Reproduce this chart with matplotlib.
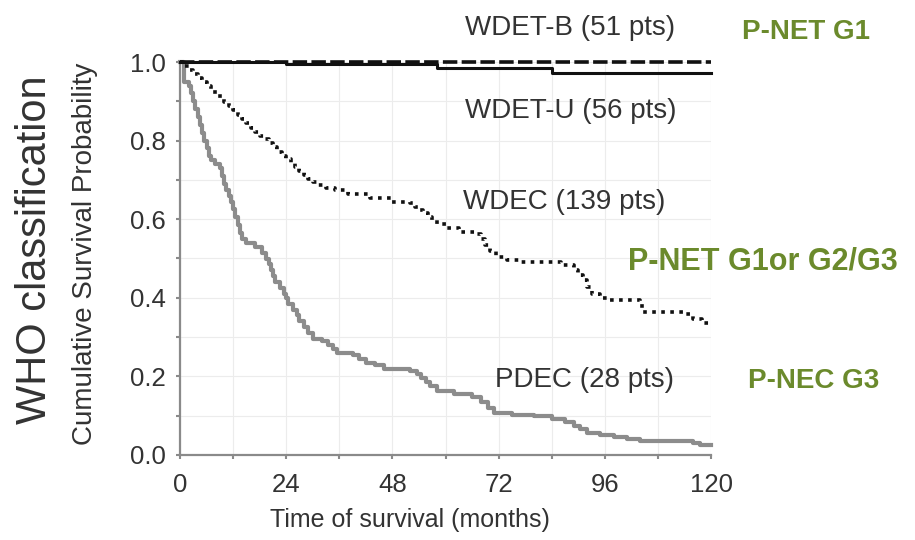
import matplotlib
matplotlib.use("Agg")
import matplotlib.pyplot as plt
from matplotlib.ticker import MultipleLocator

plt.rcParams['font.family'] = ['Liberation Sans', 'DejaVu Sans']

# ---- data (months, cumulative survival) ----
pdec_t = [0, 1, 2, 2.5, 3, 3.5, 4, 4.5, 5, 5.5, 6, 6.5, 7, 8, 9, 9.5, 10, 10.5, 11, 11.5,
          12, 12.5, 13, 13.5, 14, 15, 17, 18.5, 19.5, 20, 20.5, 21, 21.5, 22.5, 23.5, 24,
          24.5, 25.5, 26.5, 27, 28, 29, 30, 32, 33.5, 34.5, 35.5, 39, 40.5, 42, 44, 46,
          52, 53.5, 54.5, 55.5, 56.5, 58, 62, 66, 68, 69.5, 71, 75, 80, 84, 87, 89, 90.5,
          92, 95, 98, 101, 104, 116, 117.5, 120]
pdec_s = [1.0, 0.95, 0.94, 0.92, 0.90, 0.88, 0.86, 0.84, 0.82, 0.80, 0.78, 0.76, 0.75,
          0.74, 0.73, 0.71, 0.69, 0.675, 0.66, 0.645, 0.625, 0.605, 0.585, 0.565, 0.55,
          0.54, 0.53, 0.515, 0.50, 0.485, 0.47, 0.455, 0.44, 0.425, 0.41, 0.40, 0.385,
          0.37, 0.355, 0.34, 0.325, 0.31, 0.295, 0.29, 0.28, 0.27, 0.26, 0.255, 0.245,
          0.235, 0.228, 0.22, 0.215, 0.205, 0.195, 0.185, 0.175, 0.162, 0.155, 0.148,
          0.135, 0.12, 0.108, 0.103, 0.098, 0.092, 0.085, 0.075, 0.065, 0.057, 0.05,
          0.045, 0.04, 0.035, 0.03, 0.025, 0.025]

wdec_t = [0, 1, 2, 3, 4, 5, 6, 7, 8, 9, 10, 11, 12, 13, 14, 15, 16, 17, 18, 19, 20, 21,
          22, 23, 24, 25, 26, 27, 28, 29, 30, 31, 33, 35, 38, 43, 48, 52, 53, 54, 55, 56,
          57, 58, 60, 63, 67, 68, 69, 70, 71.5, 74, 77, 86, 89, 90, 91, 92, 93, 95, 97,
          104, 104.5, 114, 116, 118, 120]
wdec_s = [1.0, 0.99, 0.98, 0.97, 0.96, 0.948, 0.938, 0.928, 0.918, 0.908, 0.898, 0.888,
          0.878, 0.866, 0.855, 0.845, 0.833, 0.822, 0.812, 0.803, 0.794, 0.783, 0.772,
          0.762, 0.752, 0.742, 0.732, 0.722, 0.712, 0.703, 0.695, 0.688, 0.68, 0.674,
          0.665, 0.654, 0.645, 0.64, 0.632, 0.624, 0.615, 0.606, 0.597, 0.588, 0.577,
          0.567, 0.562, 0.55, 0.535, 0.52, 0.505, 0.495, 0.49, 0.483, 0.47, 0.458, 0.445,
          0.428, 0.41, 0.40, 0.394, 0.386, 0.365, 0.36, 0.345, 0.335, 0.335]

wdetu_t = [0, 24, 58, 84, 120]
wdetu_s = [1.0, 0.995, 0.985, 0.972, 0.972]

wdetb_t = [0, 120]
wdetb_s = [1.0, 1.0]

series_labels = ["WDET-B (51 pts)", "WDET-U (56 pts)", "WDEC (139 pts)", "PDEC (28 pts)"]
who_labels = ["P-NET G1", "P-NET G1or G2/G3", "P-NEC G3"]
x_ticks = [0, 24, 48, 72, 96, 120]
y_ticks = [0.0, 0.2, 0.4, 0.6, 0.8, 1.0]

W, H = 915, 540
fig = plt.figure(figsize=(W / 100, H / 100), dpi=100)
ax = fig.add_axes([180 / W, 1 - 455 / H, (711 - 180) / W, (455 - 62) / H])

txt = '#333333'
spine_c = '#8a8a8a'

ax.step(pdec_t, pdec_s, where='post', color='#8c8c8c', lw=3.0, clip_on=False, zorder=3)
ax.step(wdec_t, wdec_s, where='post', color='#111111', lw=2.6, clip_on=False, zorder=4,
        linestyle=(0, (1.0, 1.5)))
ax.step(wdetu_t, wdetu_s, where='post', color='#111111', lw=2.2, clip_on=False, zorder=4)
ax.step(wdetb_t, wdetb_s, where='post', color='#111111', lw=2.6, clip_on=False, zorder=5,
        linestyle=(0, (4, 1.2)))

ax.set_xlim(0, 120)
ax.set_ylim(0, 1)
ax.set_xticks(x_ticks)
ax.set_xticklabels([str(v) for v in x_ticks])
ax.set_yticks(y_ticks)
ax.set_yticklabels([f"{v:.1f}" for v in y_ticks])
ax.xaxis.set_minor_locator(MultipleLocator(12))
ax.yaxis.set_minor_locator(MultipleLocator(0.1))

ax.grid(True, which='both', color='#ececec', lw=0.8)
ax.set_axisbelow(True)

for s in ['top', 'right']:
    ax.spines[s].set_visible(False)
for s in ['left', 'bottom']:
    ax.spines[s].set_color(spine_c)
    ax.spines[s].set_linewidth(1.6)

ax.tick_params(which='both', direction='out', color=spine_c, length=3, width=1.5,
               labelcolor=txt, labelsize=18.5)
ax.tick_params(axis='y', pad=7)
ax.tick_params(axis='x', pad=10)

# axis titles
fig.text(410 / W, 1 - 520 / H, "Time of survival (months)", ha='center', va='center',
         fontsize=18, color=txt)
fig.text(85 / W, 1 - 254 / H, "Cumulative Survival Probability", ha='center', va='center',
         rotation=90, fontsize=20, color=txt)
fig.text(35 / W, 1 - 250 / H, "WHO classification", ha='center', va='center',
         rotation=90, fontsize=30, color=txt)

# curve labels
label_pos = [(465, 28), (465, 111), (463, 202), (495, 380)]
for lab, (px, py) in zip(series_labels, label_pos):
    fig.text(px / W, 1 - py / H, lab, ha='left', va='center', fontsize=20, color=txt)

green = '#6b8a2c'
who_pos = [(742, 32), (628, 262), (748, 381)]
who_size = [20, 22, 20]
for lab, (px, py), fs in zip(who_labels, who_pos, who_size):
    fig.text(px / W, 1 - py / H, lab, ha='left', va='center', fontsize=fs,
             color=green, fontweight='bold')

fig.savefig("out.png", dpi=100, facecolor='white')
